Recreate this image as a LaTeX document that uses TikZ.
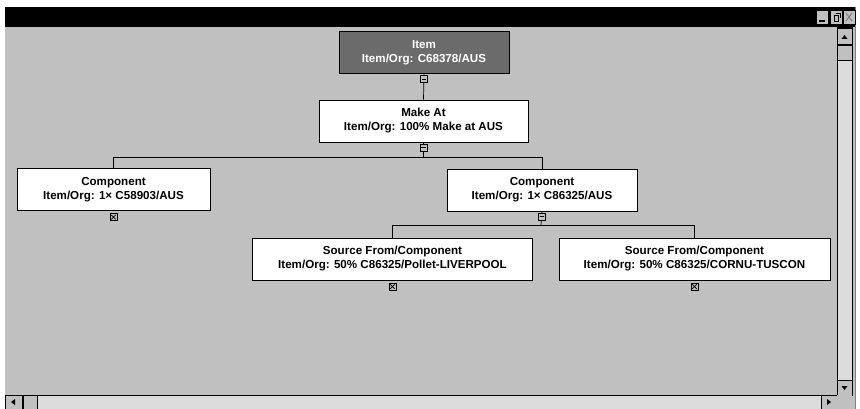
\documentclass[tikz,border=0pt]{standalone}
\usepackage{fontspec}
\setmainfont{Liberation Sans}
\usetikzlibrary{positioning,calc}
\definecolor{winFace}{HTML}{C0C0C0}
\definecolor{winTrack}{HTML}{DCDCDC}
\definecolor{winShade}{HTML}{808080}
\definecolor{itemFill}{HTML}{6B6B6B}
\tikzset{
  tree/base/.style={draw=black, line width=0.8pt, align=center,
    font=\bfseries\fontsize{11.6}{14}\selectfont, inner sep=0pt,
    minimum height=42pt},
  tree/root/.style={tree/base, fill=itemFill, text=white},
  tree/leaf/.style={tree/base, fill=white},
  tree/link/.style={draw=black, line width=0.7pt},
  tree/toggle/.style={draw=black, line width=0.5pt, fill=winFace,
    minimum size=7pt, inner sep=0pt},
  win/button/.style={draw=black, line width=0.5pt, fill=winFace},
}
\begin{document}
\begin{tikzpicture}[x=1pt, y=-1pt]
\useasboundingbox (0,0) rectangle (860,409);
% window chrome
\fill[white] (0,0) rectangle (860,409);
\filldraw[fill=winFace, draw=winShade, line width=0.6pt] (5,7) rectangle (855,409);
\fill[black] (5,7) rectangle (855,27);
\foreach \bx in {816, 830, 843}{
  \filldraw[win/button] (\bx,10) rectangle ++(12,14);
}
\fill[black] (819,20) rectangle (825,22);
\draw[black, line width=0.9pt] (834,15) rectangle (838,21);
\draw[black, line width=0.6pt] (836,13) -- (840,13) -- (840,18);
\draw[winShade, line width=1pt] (846,13) -- (852,21) (852,13) -- (846,21);
\fill[winFace] (5,27) rectangle (837,395);
% scroll bars
\filldraw[fill=winTrack, draw=black, line width=0.5pt] (837,27) rectangle (852,395);
\filldraw[win/button] (837,28) rectangle (852,44);
\filldraw[win/button] (837,45) rectangle (852,60);
\filldraw[win/button] (837,380) rectangle (852,395);
\fill[black] (844.5,35) -- (841.5,39) -- (847.5,39) -- cycle;
\fill[black] (844.5,390) -- (841.5,386) -- (847.5,386) -- cycle;
\filldraw[fill=winTrack, draw=black, line width=0.5pt] (5,395) rectangle (837,409);
\filldraw[win/button] (5,395) rectangle (22,409);
\filldraw[win/button] (23,395) rectangle (37,409);
\filldraw[win/button] (821,395) rectangle (837,409);
\fill[black] (11,402) -- (15,399) -- (15,405) -- cycle;
\fill[black] (831,402) -- (827,399) -- (827,405) -- cycle;
\fill[winFace] (837,395) rectangle (852,409);
% tree nodes
\node[tree/root, minimum width=170pt] (item) at (424,52.5) {Item\\Item/Org: C68378/AUS};
\node[tree/leaf, minimum width=209pt] (makeAt) at (423.5,121) {Make At\\Item/Org: 100\% Make at AUS};
\node[tree/leaf, minimum width=193pt] (compA) at (113.5,189.5) {Component\\Item/Org: 1× C58903/AUS};
\node[tree/leaf, minimum width=190pt] (compB) at (542,190) {Component\\Item/Org: 1× C86325/AUS};
\node[tree/leaf, minimum width=280pt] (srcA) at (392.5,259) {Source From/Component\\Item/Org: 50\% C86325/Pollet-LIVERPOOL};
\node[tree/leaf, minimum width=271pt] (srcB) at (694.5,259) {Source From/Component\\Item/Org: 50\% C86325/CORNU-TUSCON};
% connectors
\coordinate (busTop) at (423.5,157);
\coordinate (busComp) at (541,225);
\draw[tree/link] (item.south) -- (makeAt.north);
\draw[tree/link] (makeAt.south) -- (busTop);
\draw[tree/link] (busTop) -| (compA.north);
\draw[tree/link] (busTop) -| (compB.north);
\draw[tree/link] (compB.south) -- (busComp);
\draw[tree/link] (busComp) -| (srcA.north);
\draw[tree/link] (busComp) -| (srcB.north);
% expand / collapse toggles
\foreach \n in {item, makeAt, compB}{
  \node[tree/toggle, below=1.5pt of \n.south] (tog-\n) {};
  \draw[black, line width=0.8pt] ($(tog-\n.west)+(1.5,0)$) -- ($(tog-\n.east)+(-1.5,0)$);
}
\foreach \n in {compA, srcA, srcB}{
  \node[tree/toggle, below=2.5pt of \n.south] (tog-\n) {};
  \draw[black, line width=0.6pt] ($(tog-\n.north west)+(1.5,1.5)$) -- ($(tog-\n.south east)+(-1.5,-1.5)$)
    ($(tog-\n.north east)+(-1.5,1.5)$) -- ($(tog-\n.south west)+(1.5,-1.5)$);
}
\end{tikzpicture}
\end{document}
